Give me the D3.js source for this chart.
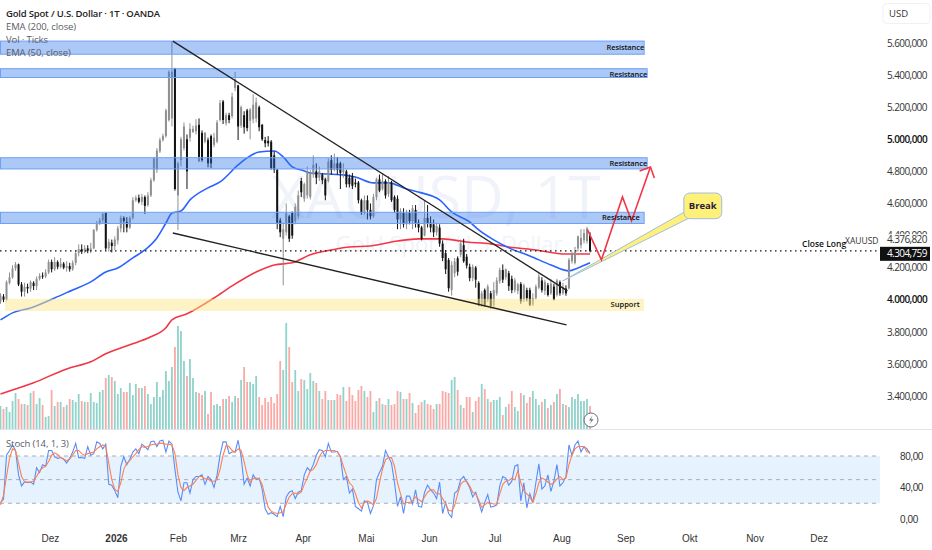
<!DOCTYPE html>
<html>
<head>
<meta charset="utf-8">
<script src="https://cdn.jsdelivr.net/npm/d3@7"></script>
<style>
  html, body { margin: 0; padding: 0; background: #fff; }
  svg { display: block; font-family: "Open Sans", "Noto Sans", sans-serif; }
  .axis path, .axis line { display: none; }
</style>
</head>
<body>
<div id="chart"></div>
<script>
const opens = [
  3990,4020,4000,4105,4140,4195,4220,4095,4050,4080,
  4070,4105,4085,4130,4150,4145,4170,4235,4190,4235,
  4205,4225,4200,4210,4190,4230,4290,4315,4300,4320,
  4305,4320,4435,4475,4495,4540,4320,4355,4335,4370,
  4445,4510,4485,4450,4510,4620,4635,4610,4640,4590,
  4650,4745,4810,4925,4995,5020,5120,5130,5440,4650,
  4870,4945,5000,5010,5045,5050,5090,5040,4985,4995,
  5020,4965,4985,5120,5235,5100,5150,5145,5320,5335,
  5085,5150,5180,5115,5125,5130,5200,5090,4995,4990,
  4985,4900,4810,4495,4380,4420,4520,4540,4490,4520,
  4740,4630,4650,4640,4780,4800,4760,4780,4750,4740,
  4870,4810,4850,4850,4795,4800,4760,4770,4730,4730,
  4620,4540,4620,4560,4520,4640,4750,4690,4740,4660,
  4730,4640,4630,4500,4540,4470,4540,4490,4560,4480,
  4450,4400,4510,4480,4470,4420,4450,4350,4290,4248,
  4061,4165,4258,4280,4340,4268,4205,4135,4200,4105,
  3968,4060,3999,4040,3965,4040,4115,4185,4140,4165,
  4130,4060,4055,4098,3999,4060,4060,3970,4010,4075,
  4120,4055,4090,4040,4082,4030,4110,4040,4070,4070,
  4240,4230,4320,4340,4370,4365,4400
];
const closes = [
  4025,4000,4110,4140,4195,4220,4095,4050,4080,4070,
  4110,4085,4130,4150,4145,4170,4235,4190,4235,4205,
  4225,4200,4210,4190,4230,4290,4315,4300,4320,4305,
  4320,4435,4475,4495,4535,4320,4360,4335,4375,4445,
  4510,4490,4450,4510,4620,4635,4610,4640,4585,4650,
  4745,4880,4930,4995,5020,5180,5420,5420,4690,4850,
  5000,5080,4800,5065,5065,5085,4890,4870,5040,4850,
  4850,5010,5105,5225,5120,5150,5120,5265,5375,5080,
  5200,5075,5070,5185,5215,5230,5075,5000,4975,4975,
  4820,4810,4480,4420,4440,4540,4380,4400,4580,4650,
  4670,4720,4800,4790,4840,4760,4800,4745,4650,4860,
  4810,4850,4810,4790,4810,4720,4720,4710,4720,4620,
  4540,4620,4560,4520,4640,4750,4680,4740,4650,4730,
  4620,4560,4500,4550,4470,4540,4490,4570,4480,4450,
  4380,4510,4480,4450,4420,4460,4350,4260,4190,4072,
  4217,4238,4175,4352,4240,4213,4135,4205,4125,3968,
  4040,3968,4082,3960,4060,4120,4185,4125,4190,4085,
  4060,4120,4095,3990,4090,4010,3968,4010,4082,4145,
  4060,4110,4030,4100,4000,4120,4040,4080,4040,4248,
  4290,4300,4395,4385,4415,4445,4305
];
const highs = [
  4040,4035,4120,4170,4215,4235,4225,4110,4105,4100,
  4120,4115,4145,4165,4170,4190,4250,4250,4265,4245,
  4260,4235,4240,4230,4245,4310,4345,4345,4340,4340,
  4355,4440,4490,4510,4545,4545,4380,4375,4395,4460,
  4525,4520,4515,4520,4640,4650,4655,4660,4650,4670,
  4760,4890,4945,5010,5035,5190,5430,5612,5445,4860,
  5015,5105,5030,5100,5085,5125,5130,5055,5045,5010,
  5030,5040,5120,5245,5245,5165,5165,5290,5420,5340,
  5210,5175,5190,5195,5280,5260,5210,5095,5015,5020,
  4995,4925,4815,4510,4480,4600,4530,4550,4600,4680,
  4760,4730,4830,4810,4900,4850,4830,4790,4760,4880,
  4900,4910,4890,4860,4850,4810,4780,4790,4755,4740,
  4630,4650,4650,4600,4660,4760,4780,4790,4750,4770,
  4740,4650,4650,4570,4570,4560,4560,4590,4590,4500,
  4460,4620,4590,4520,4500,4480,4470,4370,4310,4260,
  4240,4260,4270,4375,4380,4285,4225,4220,4210,4115,
  4055,4070,4095,4055,4110,4140,4200,4220,4195,4180,
  4150,4135,4105,4110,4100,4075,4075,4040,4095,4165,
  4140,4125,4105,4130,4100,4130,4120,4105,4090,4260,
  4300,4330,4400,4440,4440,4455,4420
];
const lows = [
  3975,3985,3990,4095,4130,4180,4085,4020,4020,4040,
  4050,4060,4060,4120,4130,4135,4160,4170,4180,4190,
  4195,4190,4175,4175,4180,4215,4270,4285,4290,4290,
  4290,4315,4425,4465,4480,4310,4300,4295,4310,4345,
  4420,4420,4420,4440,4500,4610,4600,4590,4535,4580,
  4640,4735,4790,4915,4985,5010,5110,5080,4680,4435,
  4830,4930,4690,4985,5040,5030,4860,4860,4975,4825,
  4820,4950,4975,5110,5095,5085,5100,5130,5300,4995,
  5070,5035,5050,5000,5100,5105,5050,4990,4950,4955,
  4810,4790,4440,4390,4090,4400,4360,4380,4470,4500,
  4640,4610,4630,4625,4760,4720,4740,4720,4620,4730,
  4780,4800,4780,4690,4760,4700,4700,4690,4700,4600,
  4530,4530,4500,4500,4510,4620,4670,4680,4630,4640,
  4610,4540,4440,4440,4450,4440,4470,4440,4450,4420,
  4370,4395,4450,4420,4390,4400,4330,4240,4160,4050,
  4026,4140,4150,4265,4230,4195,4115,4115,4075,3960,
  3955,3955,3985,3945,3945,4025,4100,4105,4125,4055,
  4040,4045,4035,3975,3985,3990,3960,3960,4000,4065,
  4045,4030,4020,4030,3995,4020,4025,4030,4025,4065,
  4225,4220,4300,4320,4350,4350,4295
];
const volumes = [
  23,20,22,17,28,36,30,25,25,24,36,38,25,31,24,12,13,39,23,27,
  27,22,24,30,29,27,35,28,27,27,36,27,26,37,39,51,54,52,48,35,
  41,37,37,46,34,45,41,41,43,35,25,32,47,32,39,58,48,62,82,103,
  98,68,53,70,51,37,36,34,38,15,37,24,25,23,30,30,33,27,33,31,
  49,62,47,47,45,53,32,24,31,27,32,26,35,68,59,106,82,47,59,38,
  50,49,40,56,
  48,46,38,30,38,29,29,29,35,34,42,28,42,34,28,39,43,38,32,38,
  17,28,31,25,24,30,24,25,38,37,30,30,36,26,16,24,27,29,25,24,
  20,25,25,38,37,36,49,52,39,24,21,32,32,17,28,32,45,40,30,27,
  29,29,32,14,22,25,38,22,18,36,34,26,32,38,30,24,27,30,21,24,
  27,35,40,25,24,22,32,30,35,28,28,30,23
];
const stochK = [
  21,25,81,87,94,87,56,42,47,46,47,44,65,59,69,67,87,87,79,77,
  78,76,71,77,85,96,78,78,77,92,81,83,98,96,89,95,44,43,36,27,
  67,79,69,76,85,89,83,95,92,88,98,99,92,99,100,85,99,95,63,34,
  23,46,46,33,50,54,54,56,44,54,50,40,56,81,98,98,83,85,85,100,
  79,44,52,42,56,50,52,38,13,6,8,6,3,16,3,28,34,36,26,34,
  36,56,65,61,
  69,81,88,87,79,96,85,85,86,79,50,54,33,38,16,13,10,23,21,7,
  17,50,59,67,87,79,71,46,16,28,7,29,29,19,37,16,15,34,43,37,
  33,26,47,7,21,7,2,33,36,50,54,47,40,28,34,21,9,21,31,15,
  16,18,42,54,52,43,48,67,69,23,46,14,32,21,46,70,38,42,56,35,
  48,69,42,46,54,94,81,94,99,85,92,89,83
];
const stochD = [
  18,30,54,77,89,87,71,54,47,47,47,48,54,61,65,67,73,81,84,82,
  78,76,74,76,81,87,87,83,81,83,84,85,89,92,94,92,71,50,38,35,
  46,63,71,74,79,83,88,92,91,92,94,95,95,96,96,95,95,94,83,56,
  40,36,40,42,44,49,54,54,51,51,48,48,50,63,81,93,92,87,85,89,
  87,73,56,47,51,52,51,44,28,15,10,8,7,8,9,19,28,32,33,32,
  34,44,52,61,
  63,69,79,85,87,87,87,87,85,79,67,56,46,42,32,21,14,21,23,21,
  18,26,46,63,75,78,78,67,46,32,19,21,21,23,28,25,22,28,34,37,
  37,32,32,26,19,11,10,17,32,44,48,48,42,34,32,24,15,18,21,20,
  19,19,32,44,48,49,52,50,61,46,36,32,28,21,32,46,52,50,47,44,
  46,51,54,50,52,69,81,89,92,92,92,85,85
];

// moving averages at these bars
const ema50Bars = [0,4,10,18,24,30,35,39,44,48,52,55,57,60,63,69,73,79,82,86,91,94,97,101,103,114,118,124,129,135,140,146,150,156,159,164,169,176,183,189,192,196];
const ema50Vals = [3874,3918,3949,4011,4061,4111,4173,4198,4261,4310,4385,4478,4541,4553,4622,4697,4734,4840,4884,4921,4927,4890,4828,4803,4790,4778,4765,4728,4728,4690,4666,4622,4547,4485,4435,4373,4323,4273,4217,4180,4198,4230];
const ema200Bars = [0,11,22,30,35,43,50,55,57,62,71,77,85,91,97,103,110,116,123,132,139,147,155,163,169,178,188,196];
const ema200Vals = [3413,3482,3569,3613,3663,3719,3769,3825,3875,3912,4011,4086,4173,4217,4230,4280,4310,4329,4335,4366,4379,4379,4360,4348,4329,4310,4285,4285];

const priceTicks = [5600,5400,5200,5000,4800,4600,4400,4200,4000,3800,3600,3400];
const boldPrices = [5000,4000];
const stochTicks = [80,40,0];
const stochLevels = [80,50,20];
const monthTicks = [16.4,38.4,59,79,100.5,121.5,142.5,164.3,186.5,207.8,229,250.7,272];
const monthLabels = ["Dez","2026","Feb","Mrz","Apr","Mai","Jun","Jul","Aug","Sep","Okt","Nov","Dez"];
const legendLines = ["EMA (200, close)","Vol · Ticks","EMA (50, close)"];

const lastPrice = 4304.759;
const highPrice = 4376.82;

// zones: [first bar, last bar, top price, bottom price]
const zoneFrom = [0,0,0,0];
const zoneTo = [214,215,215,214];
const zoneTop = [5612,5440,4885,4545];
const zoneBottom = [5530,5385,4815,4475];
const zoneLabels = ["Resistance","Resistance","Resistance","Resistance"];
const zoneLabelPrices = [5575,5408,4855,4515];
const zoneLabelEnd = [214,215,215,212.5];
const supportZone = [1.5,214,4006,3930];
const supportLabelEnd = 212.5;

const trendUpperBars = [57.3,188.5], trendUpperVals = [5612,4055];
const trendLowerBars = [57.3,188.2], trendLowerVals = [4416,3843];
const arrowBars = [195.2,199.8,206.8,209.8,216.1], arrowVals = [4435,4248,4641,4491,4827];
const arrowHeadBars = [212.5,216.1,217.4], arrowHeadVals = [4802,4827,4759];
const breakTailBars = [186.9,227.4,229.1], breakTailVals = [4117,4547,4510];
const breakBoxBars = [227.2,239.8], breakBoxVals = [4665,4505];

const width = 932, height = 550, axisX = 880;

const svg = d3.select("#chart").append("svg").attr("width", width).attr("height", height);

const xBar = d3.scaleLinear().domain([0, 196]).range([0.5, 590]);
const yPrice = d3.scaleLinear().domain([3400, 5600]).range([396, 43]);
const yVol = d3.scaleLinear().domain([0, 110]).range([429, 319]);
const yStoch = d3.scaleLinear().domain([0, 100]).range([519, 440.25]);

// watermark
svg.append("text").attr("x", 436).attr("y", 218).attr("text-anchor", "middle")
  .attr("font-size", 59).attr("fill", "#f0f3fa").text("XAUUSD, 1T");
svg.append("text").attr("x", 449).attr("y", 252).attr("text-anchor", "middle")
  .attr("font-size", 22).attr("fill", "#f0f3fa").text("Gold Spot / U.S. Dollar");

// volume
const bars = d3.range(closes.length);
svg.append("g").selectAll("rect").data(bars).enter().append("rect")
  .attr("x", (i) => xBar(i) - 0.9)
  .attr("width", 1.8)
  .attr("y", (i) => yVol(volumes[i]))
  .attr("height", (i) => yVol(0) - yVol(volumes[i]))
  .attr("fill", (i) => (closes[i] >= opens[i] ? "#8fd3cb" : "#f9a9a6"));

const lineOf = (barsArr, vals) =>
  d3.line().x((d) => xBar(barsArr[d])).y((d) => yPrice(vals[d])).curve(d3.curveMonotoneX)(d3.range(barsArr.length));

svg.append("path").attr("d", lineOf(ema200Bars, ema200Vals)).attr("fill", "none")
  .attr("stroke", "#f23645").attr("stroke-width", 1.6);
svg.append("path").attr("d", lineOf(ema50Bars, ema50Vals)).attr("fill", "none")
  .attr("stroke", "#2962ff").attr("stroke-width", 1.6);

// candles
const barColor = (i) => (closes[i] >= opens[i] ? "#909090" : "#111111");
const candles = svg.append("g");
candles.selectAll("line").data(bars).enter().append("line")
  .attr("x1", (i) => xBar(i)).attr("x2", (i) => xBar(i))
  .attr("y1", (i) => yPrice(highs[i])).attr("y2", (i) => yPrice(lows[i]))
  .attr("stroke", barColor).attr("stroke-width", 1);
candles.selectAll("rect").data(bars).enter().append("rect")
  .attr("x", (i) => xBar(i) - 1)
  .attr("width", 2)
  .attr("y", (i) => yPrice(Math.max(opens[i], closes[i])))
  .attr("height", (i) => Math.max(1, Math.abs(yPrice(opens[i]) - yPrice(closes[i]))))
  .attr("fill", barColor);

// last price line
svg.append("line").attr("x1", 0).attr("x2", axisX)
  .attr("y1", yPrice(lastPrice)).attr("y2", yPrice(lastPrice))
  .attr("stroke", "#111").attr("stroke-width", 1.2).attr("stroke-dasharray", "1.5 3.5");

// zones
zoneLabels.forEach((label, k) => {
  svg.append("rect")
    .attr("x", xBar(zoneFrom[k])).attr("width", xBar(zoneTo[k]) - xBar(zoneFrom[k]))
    .attr("y", yPrice(zoneTop[k])).attr("height", yPrice(zoneBottom[k]) - yPrice(zoneTop[k]))
    .attr("fill", "#2f76ec").attr("fill-opacity", 0.4)
    .attr("stroke", "#6fa0f3").attr("stroke-width", 1);
});
svg.append("rect")
  .attr("x", xBar(supportZone[0])).attr("width", xBar(supportZone[1]) - xBar(supportZone[0]))
  .attr("y", yPrice(supportZone[2])).attr("height", yPrice(supportZone[3]) - yPrice(supportZone[2]))
  .attr("fill", "#fbe88a").attr("fill-opacity", 0.5);

// trend lines
svg.append("path").attr("d", d3.line()(trendUpperBars.map((b, i) => [xBar(b), yPrice(trendUpperVals[i])])))
  .attr("stroke", "#222").attr("stroke-width", 1.4).attr("fill", "none");
svg.append("path").attr("d", d3.line()(trendLowerBars.map((b, i) => [xBar(b), yPrice(trendLowerVals[i])])))
  .attr("stroke", "#222").attr("stroke-width", 1.4).attr("fill", "none");

// break callout
const tailPts = breakTailBars.map((b, i) => [xBar(b), yPrice(breakTailVals[i])]);
svg.append("path").attr("d", d3.line()(tailPts) + "Z")
  .attr("fill", "#fff07a").attr("stroke", "#9fbde3").attr("stroke-width", 1);
svg.append("rect")
  .attr("x", xBar(breakBoxBars[0])).attr("width", xBar(breakBoxBars[1]) - xBar(breakBoxBars[0]))
  .attr("y", yPrice(breakBoxVals[0])).attr("height", yPrice(breakBoxVals[1]) - yPrice(breakBoxVals[0]))
  .attr("rx", 6).attr("fill", "#fff07a").attr("stroke", "#9fbde3").attr("stroke-width", 1);
svg.append("text").attr("x", (xBar(breakBoxBars[0]) + xBar(breakBoxBars[1])) / 2).attr("y", yPrice(4585) + 3.5)
  .attr("text-anchor", "middle").attr("font-size", 9.5).attr("font-weight", 700).attr("fill", "#2a1a3a").text("Break");

// red arrow
svg.append("path").attr("d", d3.line()(arrowBars.map((b, i) => [xBar(b), yPrice(arrowVals[i])])))
  .attr("stroke", "#f23645").attr("stroke-width", 1.6).attr("fill", "none");
svg.append("path").attr("d", d3.line()(arrowHeadBars.map((b, i) => [xBar(b), yPrice(arrowHeadVals[i])])))
  .attr("stroke", "#f23645").attr("stroke-width", 1.6).attr("fill", "none");

// zone labels
zoneLabels.forEach((label, k) => {
  svg.append("text").attr("x", xBar(zoneLabelEnd[k])).attr("y", yPrice(zoneLabelPrices[k]) + 3)
    .attr("text-anchor", "end").attr("font-size", 7.5).attr("font-weight", 600).attr("letter-spacing", -0.1).attr("fill", "#111").text(label);
});
svg.append("text").attr("x", xBar(supportLabelEnd)).attr("y", yPrice(3975) + 3)
  .attr("text-anchor", "end").attr("font-size", 7.5).attr("font-weight", 600).attr("fill", "#111").text("Support");

// panel divider
svg.append("line").attr("x1", 0).attr("x2", width).attr("y1", 429.5).attr("y2", 429.5)
  .attr("stroke", "#e0e3eb").attr("stroke-width", 1);

// lightning badge
const badge = svg.append("g").attr("transform", `translate(${xBar(196) + 1},${yVol(9)})`);
badge.append("circle").attr("r", 7).attr("fill", "#fff").attr("stroke", "#6a6d78").attr("stroke-width", 1);
badge.append("path").attr("d", "M1.5,-4.5L-2,0.5H0.5L-1.5,4.5L2.5,-0.8H0Z").attr("fill", "#6a6d78");

// stochastic
svg.append("rect").attr("x", 0).attr("width", axisX)
  .attr("y", yStoch(80)).attr("height", yStoch(20) - yStoch(80)).attr("fill", "#e6f3fe");
stochLevels.forEach((v) => {
  svg.append("line").attr("x1", 0).attr("x2", axisX).attr("y1", yStoch(v)).attr("y2", yStoch(v))
    .attr("stroke", "#a9adb5").attr("stroke-width", 1).attr("stroke-dasharray", "4 4");
});
const stochLine = d3.line().x((d, i) => xBar(i)).y((d) => yStoch(d));
svg.append("path").attr("d", stochLine(stochK)).attr("fill", "none").attr("stroke", "#5b8cf5").attr("stroke-width", 1.1);
svg.append("path").attr("d", stochLine(stochD)).attr("fill", "none").attr("stroke", "#ff7f50").attr("stroke-width", 1.1);

// axes
const de = d3.formatLocale({ decimal: ",", thousands: ".", grouping: [3], currency: ["", "$"] });
const fmtPrice = de.format(",.3f");
const fmtStoch = de.format(",.2f");

const priceAxis = svg.append("g").attr("class", "axis").attr("transform", "translate(887,0)")
  .call(d3.axisRight(yPrice).tickValues(priceTicks).tickFormat(fmtPrice).tickSize(0).tickPadding(0));
priceAxis.selectAll("text")
  .attr("font-size", 10).attr("font-family", "Open Sans").attr("letter-spacing", -0.6)
  .attr("fill", (d) => (boldPrices.includes(d) ? "#111" : "#333"))
  .attr("font-weight", (d) => (boldPrices.includes(d) ? 600 : 400));

const stochAxis = svg.append("g").attr("class", "axis").attr("transform", "translate(900,0)")
  .call(d3.axisRight(yStoch).tickValues(stochTicks).tickFormat(fmtStoch).tickSize(0).tickPadding(0));
stochAxis.selectAll("text").attr("font-size", 10).attr("letter-spacing", -0.4).attr("fill", "#333");

const monthAxis = svg.append("g").attr("class", "axis").attr("transform", "translate(0,535)")
  .call(d3.axisBottom(xBar).tickValues(monthTicks).tickFormat((d, i) => monthLabels[i]).tickSize(0).tickPadding(0));
monthAxis.selectAll("text").attr("font-size", 10).attr("fill", "#333")
  .attr("font-weight", (d, i) => (monthLabels[i] === "2026" ? 700 : 400));

// price labels on the axis
svg.append("rect").attr("x", 881).attr("width", 49).attr("y", yPrice(highPrice) - 5).attr("height", 11).attr("fill", "#fff");
svg.append("text").attr("x", 887).attr("y", yPrice(highPrice) + 4).attr("font-size", 10).attr("letter-spacing", -0.6)
  .attr("fill", "#333").text(fmtPrice(highPrice));
svg.append("rect").attr("x", 880).attr("width", 50).attr("y", yPrice(lastPrice) - 4).attr("height", 14).attr("fill", "#111");
svg.append("text").attr("x", 887).attr("y", yPrice(lastPrice) + 6.5).attr("font-size", 10).attr("letter-spacing", -0.6)
  .attr("fill", "#fff").text(fmtPrice(lastPrice));
svg.append("text").attr("x", 802).attr("y", 247).attr("font-size", 8.5).attr("font-weight", 600).attr("fill", "#111").text("Close Long");
svg.append("text").attr("x", 845).attr("y", 244).attr("font-size", 8.5).attr("fill", "#333").text("XAUUSD");

// USD button
svg.append("rect").attr("x", 883).attr("y", 3.5).attr("width", 47).attr("height", 20).attr("rx", 4)
  .attr("fill", "#fff").attr("stroke", "#f0f1f4");
svg.append("text").attr("x", 889).attr("y", 17).attr("font-size", 9.5).attr("fill", "#333").text("USD");

// legend
svg.append("text").attr("x", 6).attr("y", 17).attr("font-size", 9.5).attr("font-weight", 600).attr("letter-spacing", -0.2).attr("fill", "#222")
  .text("Gold Spot / U.S. Dollar · 1T · OANDA");
legendLines.forEach((t, i) => {
  svg.append("text").attr("x", 6).attr("y", 30 + i * 13).attr("font-size", 9.5).attr("letter-spacing", -0.1).attr("fill", "#5a5d66").text(t);
});
svg.append("text").attr("x", 6).attr("y", 447).attr("font-size", 9.5).attr("letter-spacing", -0.1).attr("fill", "#5a5d66").text("Stoch (14, 1, 3)");
</script>
</body>
</html>
